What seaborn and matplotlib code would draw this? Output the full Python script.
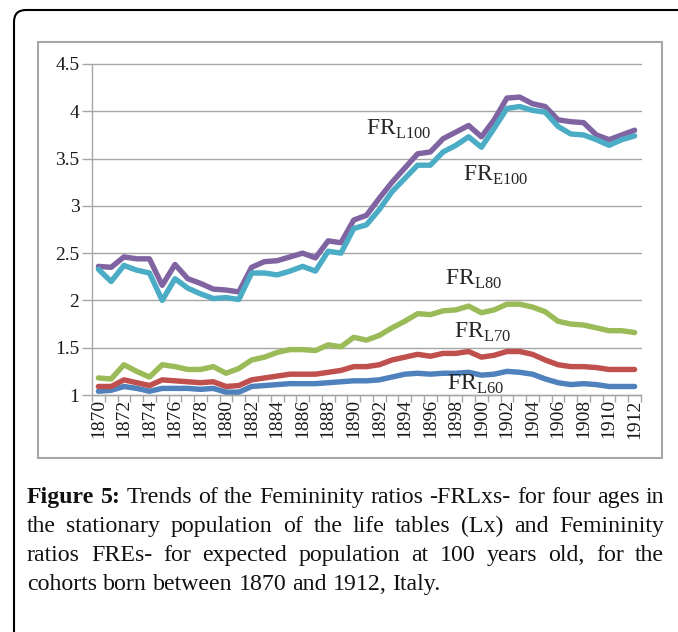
import numpy as np
import pandas as pd
import seaborn as sns
import matplotlib
matplotlib.use("Agg")
import matplotlib.pyplot as plt
from matplotlib.patches import Rectangle, FancyBboxPatch
from matplotlib.transforms import IdentityTransform

# === Data ===
years = list(range(1870, 1913))

fr_l100 = [2.36, 2.35, 2.46, 2.44, 2.44, 2.16, 2.38, 2.23, 2.18, 2.12,
           2.11, 2.09, 2.35, 2.41, 2.42, 2.46, 2.50, 2.45, 2.63, 2.61,
           2.85, 2.90, 3.08, 3.25, 3.40, 3.55, 3.57, 3.71, 3.78, 3.85,
           3.73, 3.91, 4.14, 4.15, 4.08, 4.05, 3.91, 3.89, 3.88, 3.75,
           3.70, 3.75, 3.80]
fr_e100 = [2.33, 2.20, 2.37, 2.32, 2.29, 2.00, 2.23, 2.13, 2.07, 2.02,
           2.03, 2.01, 2.29, 2.29, 2.27, 2.31, 2.36, 2.31, 2.52, 2.50,
           2.76, 2.80, 2.96, 3.15, 3.29, 3.43, 3.43, 3.57, 3.64, 3.73,
           3.62, 3.82, 4.03, 4.05, 4.01, 3.99, 3.84, 3.76, 3.75, 3.70,
           3.64, 3.70, 3.74]
fr_l80 = [1.18, 1.17, 1.32, 1.25, 1.19, 1.32, 1.30, 1.27, 1.27, 1.30,
          1.23, 1.28, 1.37, 1.40, 1.45, 1.48, 1.48, 1.47, 1.53, 1.51,
          1.61, 1.58, 1.63, 1.71, 1.78, 1.86, 1.85, 1.89, 1.90, 1.94,
          1.87, 1.90, 1.96, 1.96, 1.93, 1.88, 1.78, 1.75, 1.74, 1.71,
          1.68, 1.68, 1.66]
fr_l70 = [1.09, 1.09, 1.16, 1.13, 1.10, 1.16, 1.15, 1.14, 1.13, 1.14,
          1.09, 1.10, 1.16, 1.18, 1.20, 1.22, 1.22, 1.22, 1.24, 1.26,
          1.30, 1.30, 1.32, 1.37, 1.40, 1.43, 1.41, 1.44, 1.44, 1.46,
          1.40, 1.42, 1.46, 1.46, 1.43, 1.37, 1.32, 1.30, 1.30, 1.29,
          1.27, 1.27, 1.27]
fr_l60 = [1.04, 1.05, 1.09, 1.07, 1.04, 1.07, 1.07, 1.07, 1.06, 1.07,
          1.03, 1.03, 1.09, 1.10, 1.11, 1.12, 1.12, 1.12, 1.13, 1.14,
          1.15, 1.15, 1.16, 1.19, 1.22, 1.23, 1.22, 1.23, 1.23, 1.24,
          1.21, 1.22, 1.25, 1.24, 1.22, 1.17, 1.13, 1.11, 1.12, 1.11,
          1.09, 1.09, 1.09]

series_names = ["FRL60", "FRL70", "FRL80", "FRL100", "FRE100"]
series_colors = ["#4F81BD", "#C0504D", "#9BBB59", "#8064A2", "#4BACC6"]
y_ticks = [1, 1.5, 2, 2.5, 3, 3.5, 4, 4.5]
y_labels = ["1", "1.5", "2", "2.5", "3", "3.5", "4", "4.5"]
x_labels = [str(y) for y in range(1870, 1913, 2)]

caption = ["Figure 5: Trends of the Femininity ratios -FRLxs- for four ages in",
           "the stationary population of the life tables (Lx) and Femininity",
           "ratios FREs- for expected population at 100 years old, for the",
           "cohorts born between 1870 and 1912, Italy."]

df = pd.DataFrame({"year": years, "FRL60": fr_l60, "FRL70": fr_l70,
                   "FRL80": fr_l80, "FRL100": fr_l100, "FRE100": fr_e100})
long_df = df.melt(id_vars="year", var_name="series", value_name="ratio")

# === Style ===
sns.set_theme(style="white")
plt.rcParams["font.family"] = ["Liberation Serif", "DejaVu Serif"]
plt.rcParams["mathtext.fontset"] = "custom"
plt.rcParams["mathtext.rm"] = "Liberation Serif"

W, H = 678, 632
fig = plt.figure(figsize=(W / 100, H / 100), dpi=100)
ax = fig.add_axes([92 / W, 1 - 395 / H, (641 - 92) / W, (395 - 64) / H])

grey = "#a6a6a6"
sns.lineplot(data=long_df, x="year", y="ratio", hue="series",
             hue_order=series_names, palette=dict(zip(series_names, series_colors)),
             lw=3.9, legend=False, ax=ax)
for ln in ax.lines:
    ln.set_solid_joinstyle("round")

ax.set_xlim(1869.5, 1912.5)
ax.set_ylim(1, 4.5)
ax.set_yticks(y_ticks)
ax.set_yticklabels(y_labels)
ax.set_xticks(range(1870, 1913, 2))
ax.set_xticklabels(x_labels)
ax.set_xticks(np.arange(1869.5, 1913, 1), minor=True)
ax.set_xlabel("")
ax.set_ylabel("")

ax.tick_params(axis="x", which="major", length=0, rotation=90, labelsize=14,
               pad=3, labelcolor="#1a1a1a")
ax.tick_params(axis="x", which="minor", bottom=True, length=5, width=1, color=grey)
ax.tick_params(axis="y", left=True, length=7, width=1, color=grey, labelsize=14,
               pad=2, labelcolor="#1a1a1a")
ax.grid(axis="y", color=grey, lw=1)
ax.grid(axis="x", visible=False)
for gl in ax.get_ygridlines():
    gl.set_clip_on(False)
for s in ["top", "right"]:
    ax.spines[s].set_visible(False)
for s in ["left", "bottom"]:
    ax.spines[s].set_color(grey)
    ax.spines[s].set_linewidth(1)

# series labels
lab_fs = 17
ax.text(1890.96, 3.75, r"FR$_{\mathrm{L100}}$", fontsize=lab_fs, va="baseline")
ax.text(1898.55, 3.26, r"FR$_{\mathrm{E100}}$", fontsize=lab_fs, va="baseline")
ax.text(1897.14, 2.16, r"FR$_{\mathrm{L80}}$", fontsize=lab_fs, va="baseline")
ax.text(1897.85, 1.61, r"FR$_{\mathrm{L70}}$", fontsize=lab_fs, va="baseline")
ax.text(1897.27, 1.05, r"FR$_{\mathrm{L60}}$", fontsize=lab_fs, va="baseline")

# chart border and outer frame
fig.add_artist(Rectangle((38 / W, 1 - 458 / H), 624 / W, 416 / H,
                         transform=fig.transFigure, fill=False, ec=grey, lw=1.5))
fig.add_artist(FancyBboxPatch((14, -40), 720, H - 10 + 40,
                              boxstyle="round,pad=0,rounding_size=12",
                              transform=IdentityTransform(), fill=False,
                              ec="black", lw=1.5))

# === Caption, justified ===
fig.canvas.draw()
r = fig.canvas.get_renderer()
cap_fs = 17.2
left_px, right_px = 27, 664
base_px = [503, 532, 561, 590]
for i, line in enumerate(caption):
    words = line.split(" ")
    arts = []
    for j, w in enumerate(words):
        bold = i == 0 and j < 2
        arts.append(fig.text(0, 1 - base_px[i] / H, w, fontsize=cap_fs,
                             fontweight="bold" if bold else "normal",
                             va="baseline", ha="left", color="#111111"))
    widths = [a.get_window_extent(renderer=r).width for a in arts]
    if i < len(caption) - 1:
        gap = (right_px - left_px - sum(widths)) / (len(words) - 1)
    else:
        gap = 0.25 * cap_fs * 100 / 72
    x = left_px
    for a, w in zip(arts, widths):
        a.set_x(x / W)
        x += w + gap

fig.savefig("out.png", dpi=100)
